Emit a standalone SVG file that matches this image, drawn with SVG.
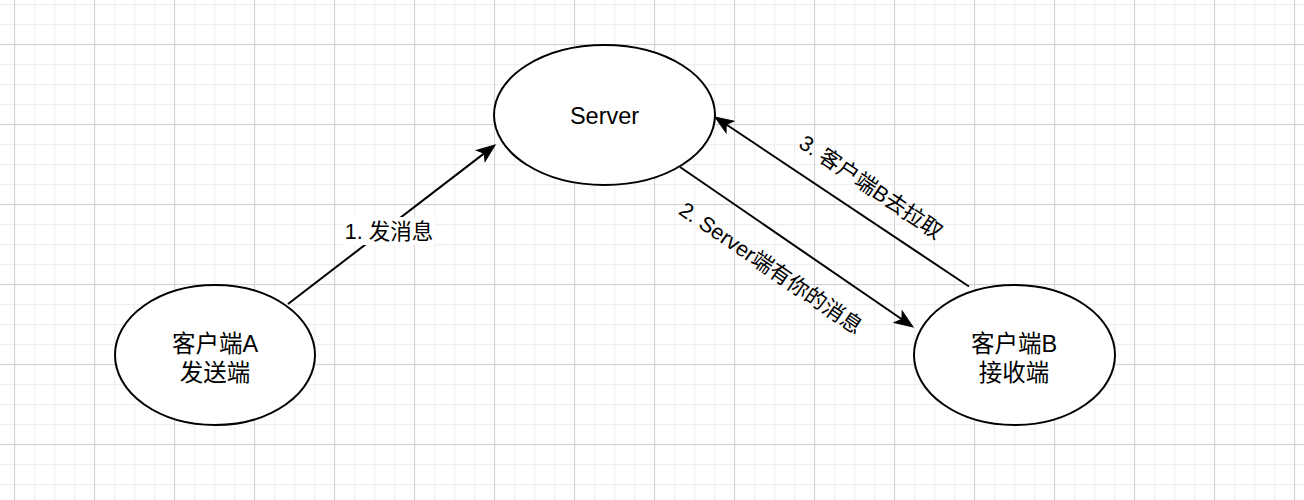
<svg xmlns="http://www.w3.org/2000/svg" width="1304" height="500" viewBox="0 0 1304 500">
  <defs>
    <pattern id="gridMinor" x="14" y="4" width="20" height="20" patternUnits="userSpaceOnUse">
      <path d="M0.5 0 V20 M0 0.5 H20" stroke="#efefef" stroke-width="1.5" fill="none"/>
    </pattern>
    <pattern id="gridMajor" x="14" y="44" width="80" height="80" patternUnits="userSpaceOnUse">
      <path d="M0.5 0 V80 M0 0.5 H80" stroke="#d2d2d2" stroke-width="1" fill="none"/>
    </pattern>
    <marker id="arrow" markerUnits="userSpaceOnUse" orient="auto" refX="0" refY="0" markerWidth="40" markerHeight="40" overflow="visible">
      <path d="M10 0 L-8 -7 L-3.5 0 L-8 7 Z" fill="#000" stroke="#000" stroke-width="1"/>
    </marker>
    <style>
      .node ellipse { fill: #ffffff; stroke: #000000; stroke-width: 2; }
      .node text { font-family: "Liberation Sans", "Noto Sans CJK SC", sans-serif; font-size: 23.5px; fill: #000; text-anchor: middle; }
      .edge { fill: none; stroke: #000; stroke-width: 2; marker-end: url(#arrow); }
      .elabel { font-family: "Liberation Sans", "Noto Sans CJK SC", sans-serif; font-size: 21.5px; fill: #000; text-anchor: middle; }
    </style>
  </defs>

  <rect width="1304" height="500" fill="#ffffff"/>
  <rect width="1304" height="500" fill="url(#gridMinor)"/>
  <rect width="1304" height="500" fill="url(#gridMajor)"/>

  <g id="connectors">
    <g id="edge1">
      <path class="edge" d="M288 304 L487.1 151.1"/>
      <rect x="343" y="217" width="92" height="28" fill="#ffffff"/>
      <text class="elabel" x="389" y="239">1. 发消息</text>
    </g>
    <g id="edge2">
      <path class="edge" d="M680 167 L904.8 321.3"/>
      <text class="elabel" transform="translate(771 268) rotate(34.3)" x="0" y="7.5">2. Server端有你的消息</text>
    </g>
    <g id="edge3">
      <path class="edge" d="M969 286.5 L723.3 122.5"/>
      <text class="elabel" transform="translate(871 187) rotate(34)" x="0" y="7.5">3. 客户端B去拉取</text>
    </g>
  </g>

  <g id="server" class="node">
    <ellipse cx="604.5" cy="115" rx="110.5" ry="70"/>
    <text x="604.5" y="123.5">Server</text>
  </g>

  <g id="clientA" class="node">
    <ellipse cx="215" cy="355" rx="100" ry="70"/>
    <text x="215" y="352">客户端A</text>
    <text x="215" y="381">发送端</text>
  </g>

  <g id="clientB" class="node">
    <ellipse cx="1014.5" cy="355" rx="100.5" ry="70"/>
    <text x="1014" y="352">客户端B</text>
    <text x="1014" y="381">接收端</text>
  </g>
</svg>
